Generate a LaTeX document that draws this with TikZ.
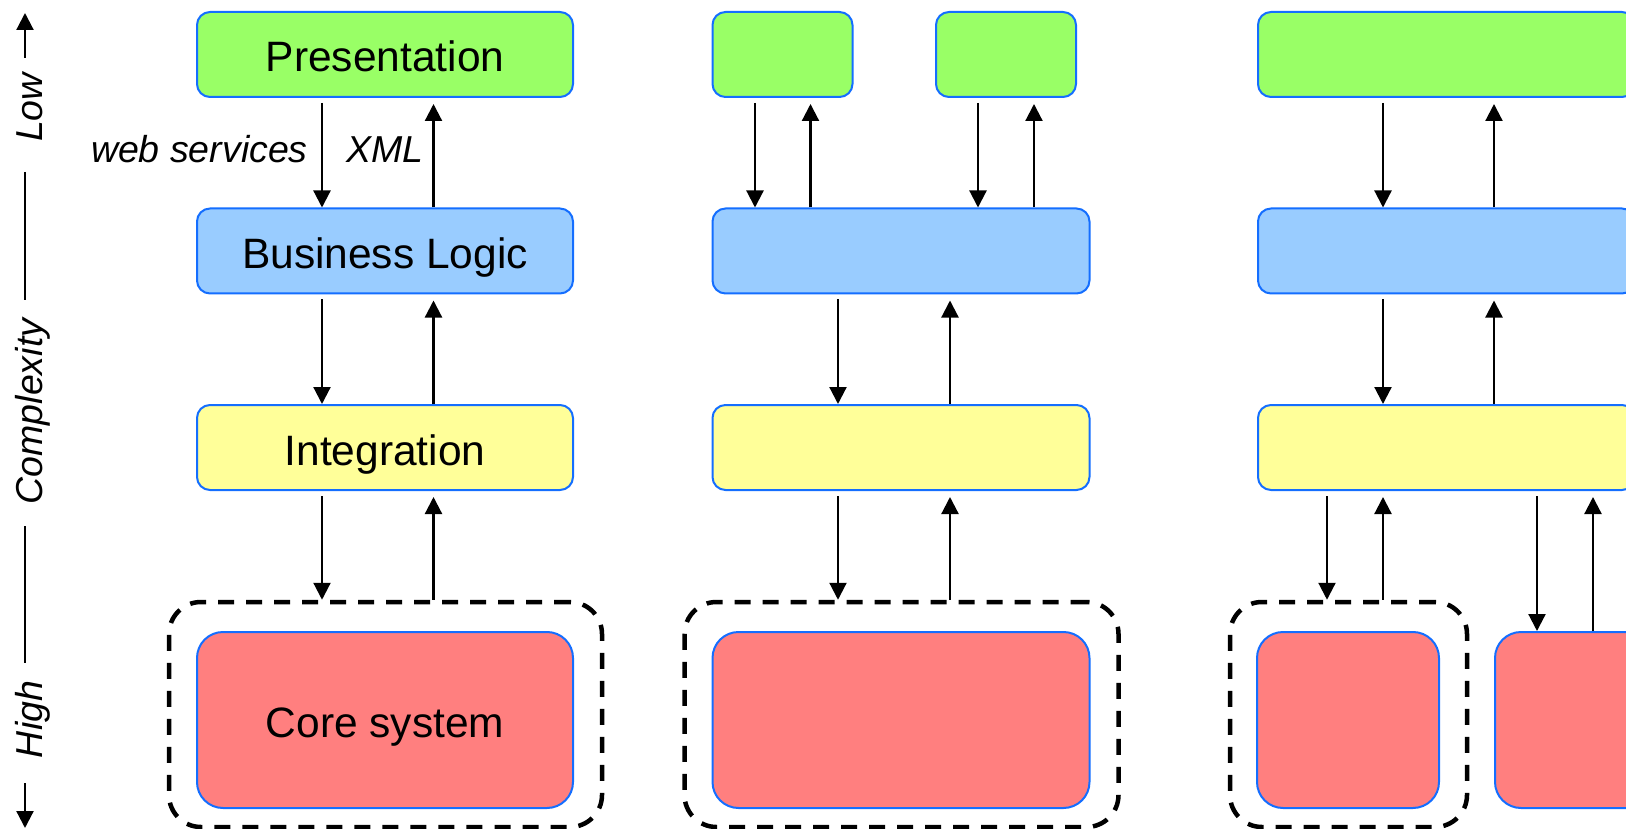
\documentclass[tikz,border=0pt]{standalone}
\usepackage{fontspec}
\setmainfont{Liberation Sans}
\usetikzlibrary{arrows.meta}
\definecolor{bord}{RGB}{20,110,255}
\definecolor{cgreen}{HTML}{99FF66}
\definecolor{cblue}{HTML}{99CCFF}
\definecolor{cyellow}{HTML}{FFFF99}
\definecolor{cred}{HTML}{FF7F7F}
\begin{document}
\begin{tikzpicture}[x=1pt,y=-1pt,
  box/.style={draw=bord, line width=2pt, rounded corners=13pt, inner sep=0pt,
    text height=35pt, text depth=0pt, minimum height=85pt,
    font=\fontsize{42.5}{50}\selectfont},
  presbox/.style={box, fill=cgreen},
  logicbox/.style={box, fill=cblue},
  integbox/.style={box, fill=cyellow},
  corebox/.style={box, fill=cred, rounded corners=26pt, minimum height=176pt},
  dashbox/.style={draw=black, line width=4.5pt, dash pattern=on 16pt off 12pt,
    rounded corners=32pt, minimum height=225pt, inner sep=0pt},
  tip/.style={-{Triangle[length=17pt,width=17pt]}},
  arr/.style={line width=2.2pt, tip},
  dn/.style={arr, shorten <=5pt},
  up/.style={arr, shorten >=6pt},
  axline/.style={line width=2.2pt},
  axlabel/.style={rotate=90, anchor=base, inner sep=0pt, font=\fontsize{37.5}{44}\selectfont\itshape},
  edgelabel/.style={inner sep=0pt, font=\fontsize{37.5}{44}\selectfont\itshape}
]
\useasboundingbox (0,0) rectangle (1626,829);
\clip (0,0) rectangle (1626,829);

% ---------- axis ----------
\node[axlabel] (low) at (42,107.5) {Low};
\node[axlabel] (cplx) at (42,411.5) {Complexity};
\node[axlabel] (high) at (42,719.5) {High};
\coordinate (a1) at (25,58);  \coordinate (a0) at (25,13);
\coordinate (a2) at (25,172); \coordinate (a3) at (25,300);
\coordinate (a4) at (25,526); \coordinate (a5) at (25,663);
\coordinate (a6) at (25,783); \coordinate (a7) at (25,828);
\draw[axline, tip] (a1) -- (a0);
\draw[axline] (a2) -- (a3);
\draw[axline] (a4) -- (a5);
\draw[axline, tip] (a6) -- (a7);

% ---------- column 1 ----------
\node[presbox, minimum width=376pt] (p1) at (385,54.5) {Presentation};
\node[logicbox, minimum width=376pt] (b1) at (385,251) {Business Logic};
\node[integbox, minimum width=376pt] (i1) at (385,447.5) {Integration};
\node[dashbox, minimum width=433pt] (d1) at (385.5,714.5) {};
\node[corebox, minimum width=376pt] (c1) at (385,720) {Core system};

\coordinate (x1a) at (322,0); \coordinate (x1b) at (433.5,0);
\draw[dn] (p1.south -| x1a) -- (b1.north -| x1a);
\draw[up] (b1.north -| x1b) -- (p1.south -| x1b);
\draw[dn] (b1.south -| x1a) -- (i1.north -| x1a);
\draw[up] (i1.north -| x1b) -- (b1.south -| x1b);
\draw[dn] (i1.south -| x1a) -- (d1.north -| x1a);
\draw[up] (d1.north -| x1b) -- (i1.south -| x1b);

\node[edgelabel, anchor=base east] (ws) at (308,163) {web services};
\node[edgelabel, anchor=base west] (xml) at (346,163) {XML};

% ---------- column 2 ----------
\node[presbox, minimum width=140pt] (p2a) at (782.5,54.5) {};
\node[presbox, minimum width=140pt] (p2b) at (1006,54.5) {};
\node[logicbox, minimum width=377pt] (b2) at (901,251) {};
\node[integbox, minimum width=377pt] (i2) at (901,447.5) {};
\node[dashbox, minimum width=434pt] (d2) at (901.5,714.5) {};
\node[corebox, minimum width=377pt] (c2) at (901,720) {};

\coordinate (x2a) at (755,0); \coordinate (x2b) at (810.5,0);
\coordinate (x2c) at (978,0); \coordinate (x2d) at (1034,0);
\coordinate (x2e) at (838,0); \coordinate (x2f) at (950,0);
\draw[dn] (p2a.south -| x2a) -- (b2.north -| x2a);
\draw[up] (b2.north -| x2b) -- (p2a.south -| x2b);
\draw[dn] (p2b.south -| x2c) -- (b2.north -| x2c);
\draw[up] (b2.north -| x2d) -- (p2b.south -| x2d);
\draw[dn] (b2.south -| x2e) -- (i2.north -| x2e);
\draw[up] (i2.north -| x2f) -- (b2.south -| x2f);
\draw[dn] (i2.south -| x2e) -- (d2.north -| x2e);
\draw[up] (d2.north -| x2f) -- (i2.south -| x2f);

% ---------- column 3 ----------
\node[presbox, minimum width=377pt] (p3) at (1446.5,54.5) {};
\node[logicbox, minimum width=377pt] (b3) at (1446.5,251) {};
\node[integbox, minimum width=377pt] (i3) at (1446.5,447.5) {};
\node[dashbox, minimum width=237pt] (d3) at (1348.5,714.5) {};
\node[corebox, minimum width=182pt] (c3a) at (1348,720) {};
\node[corebox, minimum width=182pt] (c3b) at (1586,720) {};

\coordinate (x3a) at (1383,0); \coordinate (x3b) at (1494,0);
\coordinate (x3c) at (1327,0); \coordinate (x3d) at (1537,0);
\coordinate (x3e) at (1593,0);
\draw[dn] (p3.south -| x3a) -- (b3.north -| x3a);
\draw[up] (b3.north -| x3b) -- (p3.south -| x3b);
\draw[dn] (b3.south -| x3a) -- (i3.north -| x3a);
\draw[up] (i3.north -| x3b) -- (b3.south -| x3b);
\draw[dn] (i3.south -| x3c) -- (d3.north -| x3c);
\draw[up] (d3.north -| x3a) -- (i3.south -| x3a);
\draw[dn] (i3.south -| x3d) -- (c3b.north -| x3d);
\draw[up] (c3b.north -| x3e) -- (i3.south -| x3e);
\end{tikzpicture}
\end{document}
